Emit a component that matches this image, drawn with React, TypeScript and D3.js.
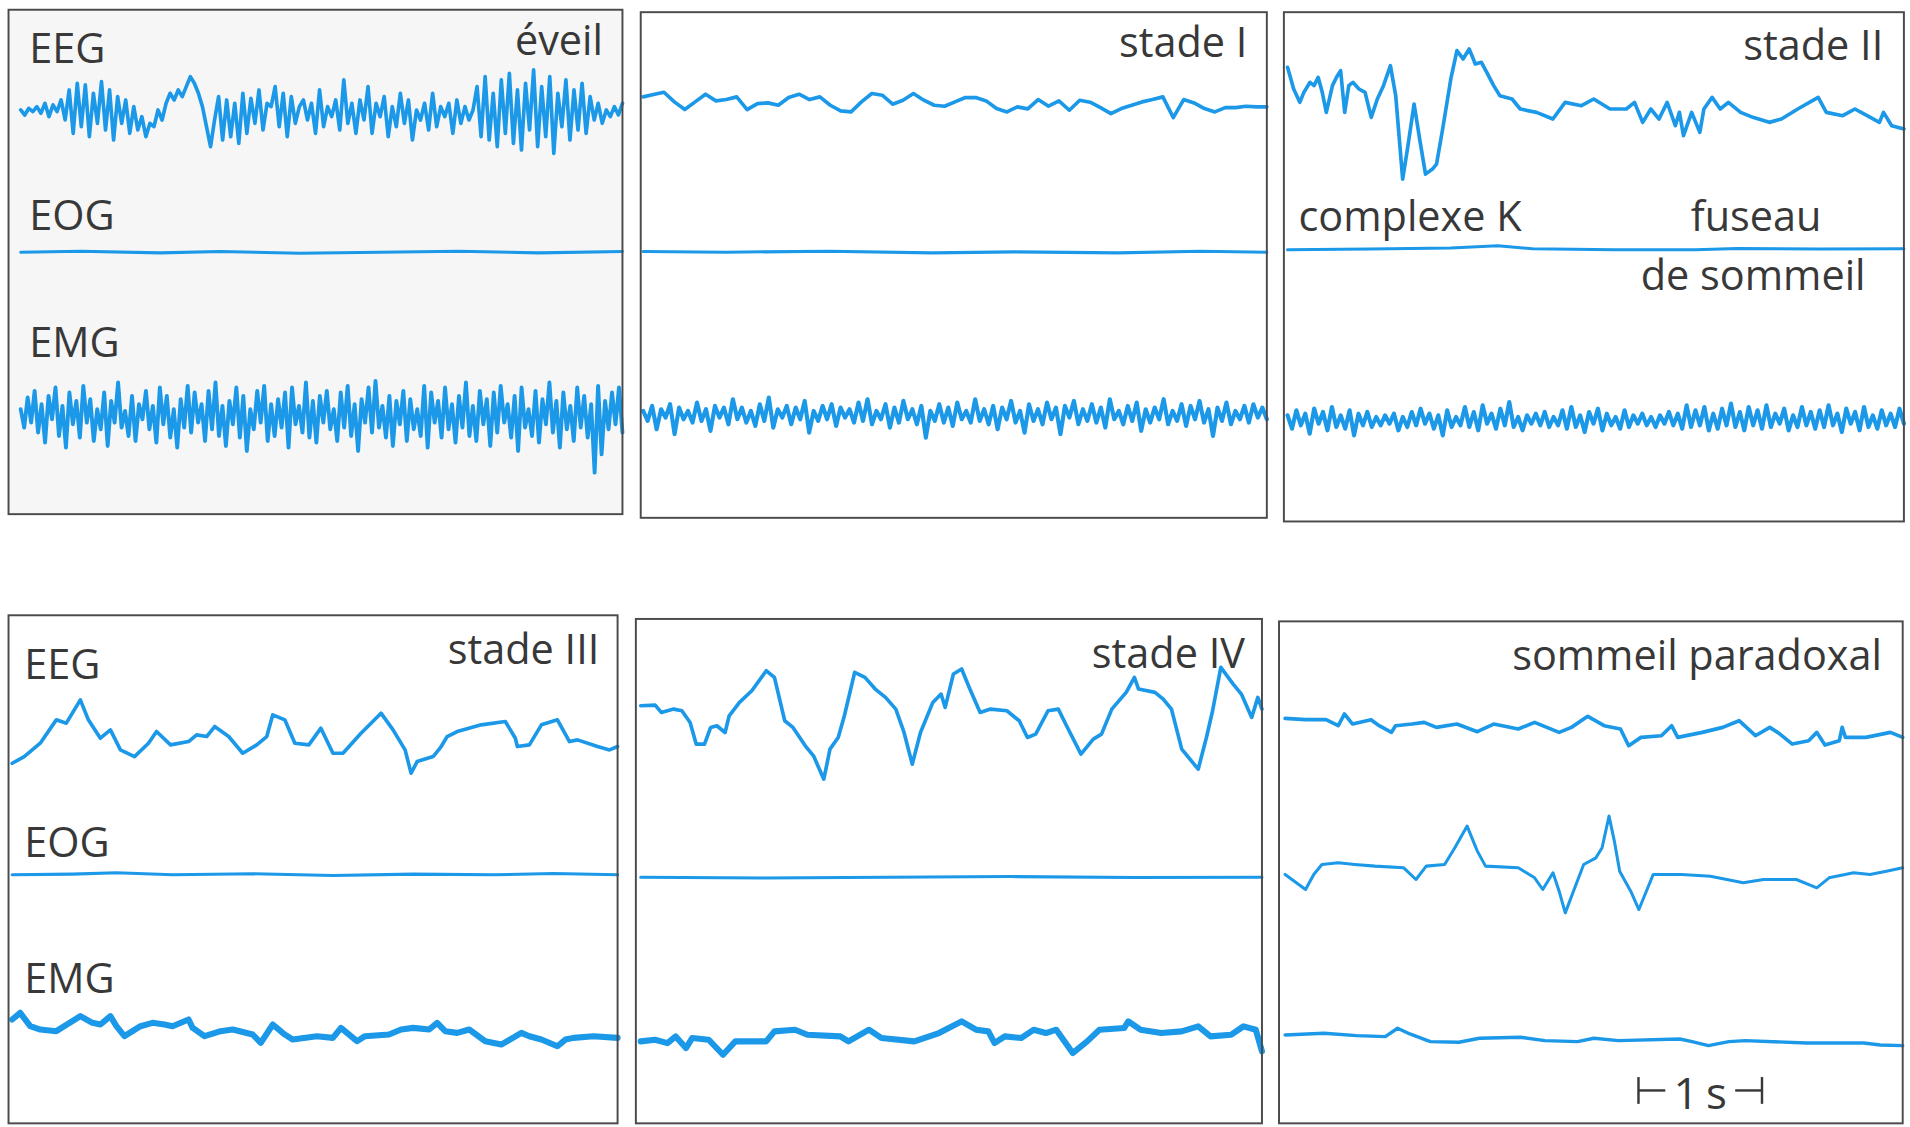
import React, { useEffect, useRef } from 'react';
import * as d3 from 'd3';

// each panel is a 5 s sweep, ~302 samples per second
const SWEEP = 1510;
const SAMPLES_PER_SEC = 302;

// ---- éveil ----
const eegEveil = [
  10, -5, 15, 5, 20, 0, 30, -10, 25, 5, 40, -20,
  70, -60, 90, -40, 85, -70, 60, -30, 95, -50, 70, -80, 50, -30, 40, -60,
  20, -50, -10, -70, -30, -40, 10, -20, 30, 60,
  40, 70, 50, 80, 110, 90, 60, 20, -40,
  -100, -20, 50, -80, 40, -70, 30, -90, 60, -60, 45, -30, 70, -50, 30, 20, 80, -40, 60, -70, 50, -30, 20, 40, -20, 30, -60, 70, -40, 20, -10, 40, -50, 100,
  -30, 30, -60, 40, -20, 80, -60, 30, -10, 50, -70, 20, -40, 60, -30, 40, -80, 10, -20, 30, -50, 60, -40, 20, -10, 30, -60, 40, -30, 20, -20, 10,
  80, -70, 110, -80, 60, -100, 100, -60, 120, -90, 70, -110, 90, -50, 130, -100, 80, -70, 110, -120, 60, -40, 100, -80, 70, -50, 90, -60, 50,
  -20, 30, -30, 10, -10, 20, -5, 30,
];
const eogEveil: [number, number][] = [
  [0, 0], [150, 3], [350, -2], [500, 2], [700, -3], [900, 0], [1100, 3], [1300, -2], [1510, 2],
];
const emgEveil = [
  15, -40, 50, -25, 70, -55, 30, -85, 55, -15, 80, -65, 25, -100, 65, -30, 40, -70, 85, -25,
  45, -80, 15, -45, 65, -95, 40, -25, 95, -40, 10, -65, 55, -80, 30, -15, 70, -45, 25, -85,
  80, -30, 55, -70, 15, -100, 45, -40, 85, -55, 65, -25, 30, -80, 70, -45, 95, -65, 25, -95,
  40, -30, 80, -70, 55, -110, 15, -45, 70, -25, 85, -80, 30, -65, 45, -40, 65, -100, 80, -30,
  25, -55, 95, -70, 40, -85, 55, -25, 70, -45, 15, -80, 65, -40, 85, -65, 30, -110, 45, -25,
  80, -55, 100, -40, 25, -70, 55, -95, 40, -30, 70, -80, 45, -45, 15, -65, 85, -100, 65, -25,
  40, -70, 80, -45, 30, -85, 55, -40, 95, -65, 25, -80, 70, -30, 45, -95, 65, -55, 85, -25,
  30, -70, 55, -110, 80, -40, 15, -65, 70, -85, 45, -30, 95, -55, 40, -100, 65, -45, 25, -80,
  80, -40, 55, -70, 30, -175, 85, -120, 40, -45, 65, -30, 80, -55,
];

// ---- stade I ----
const eegStade1 = [
  20, 27, 34, 5, -18, 5, 28, 8, 12, 20, -18, 0, 2, -5, 18, 28, 12, 20, -5, -22, -25, 5, 30, 25, -2, 10, 30, 10,
  -5, -8, 5, 18, 18, 8, -15, -25, -10, -16, 12, -8, 8, -20, 10, 4, -12, -30, -15, -5, 5, 12, 20, -42, 12, 2,
  -15, -25, -12, -12, -8, -10, -10,
];
const eogStade1: [number, number][] = [
  [0, 2], [200, 0], [450, 3], [700, -2], [900, 1], [1150, -2], [1350, 3], [1510, 0],
];
const emgStade1 = [
  10, -20, 25, -45, 15, -10, 30, -60, 20, -15, 10, -25, 35, -20, 15, -50, 25, -10, 20, -30,
  45, -15, 20, -25, 10, -35, 30, -20, 50, -40, 15, -10, 25, -30, 20, -15, 40, -55, 10, -20,
  25, -15, 30, -35, 20, -10, 15, -25, 35, -20, 45, -30, 10, -15, 30, -40, 20, -25, 40, -15,
  15, -30, 25, -70, 10, -20, 30, -25, 20, -35, 35, -15, 10, -25, 45, -20, 15, -30, 25, -45,
  20, -15, 40, -25, 10, -55, 30, -20, 15, -30, 35, -15, 20, -60, 25, -10, 40, -30, 15, -20,
  30, -25, 20, -40, 45, -15, 10, -30, 25, -20, 35, -50, 15, -25, 20, -15, 45, -30, 10, -20,
  30, -35, 25, -15, 40, -25, 15, -65, 20, -20, 35, -30, 10, -15, 25, -25, 30, -10, 20, -15,
];

// ---- stade II ----
const eegStade2: [number, number][] = [
  [0, 105], [15, 40], [30, 0], [40, 30], [55, 60], [65, 50], [75, 75], [85, 30], [95, -30], [110, 50],
  [120, 75], [130, 95], [140, -30], [150, 50], [160, 60], [175, 40], [190, 30], [205, -45], [220, 10],
  [235, 50], [252, 110], [265, 20], [282, -230], [295, -130], [310, -5], [325, -120], [338, -215],
  [355, -200], [365, -185], [380, -80], [400, 70], [415, 155], [430, 130], [445, 160], [460, 115],
  [475, 120], [490, 85], [505, 50], [520, 20], [550, 10], [570, -20], [610, -30], [650, -50], [680, 0],
  [720, -10], [750, 10], [790, -20], [830, -20], [850, 0], [870, -60], [890, -20], [910, -50], [930, 0],
  [950, -70], [960, -30], [970, -100], [990, -30], [1010, -90], [1020, -20], [1040, 15], [1060, -20],
  [1080, 0], [1110, -30], [1140, -45], [1180, -60], [1210, -50], [1250, -20], [1300, 15], [1320, -30],
  [1360, -40], [1390, -20], [1420, -40], [1450, -60], [1460, -30], [1480, -70], [1510, -80],
];
const eogStade2: [number, number][] = [
  [0, 0], [200, 2], [400, 5], [515, 12], [600, 3], [800, 0], [1000, 0], [1100, 4], [1300, 2], [1510, 3],
];
const emgStade2 = [
  15, -25, 30, -15, 20, -40, 35, -10, 25, -30, 40, -20, 15, -25, 30, -45, 20, -15, 25, -20,
  10, -15, 15, -10, 20, -30, 10, -20, 25, -15, 35, -10, 20, -25, 15, -45, 30, -20, 10, -15,
  40, -20, 25, -30, 45, -10, 20, -25, 35, -15, 55, -20, 10, -30, 15, -10, 20, -15, 25, -20,
  10, -15, 30, -25, 40, -20, 15, -35, 25, -10, 35, -30, 20, -15, 10, -25, 30, -20, 15, -10,
  20, -15, 10, -20, 15, -10, 25, -15, 20, -25, 45, -20, 30, -15, 40, -30, 20, -25, 35, -15,
  50, -20, 25, -30, 40, -15, 30, -25, 45, -20, 20, -10, 35, -30, 15, -20, 40, -15, 25, -25,
  30, -20, 45, -15, 20, -35, 35, -10, 25, -30, 40, -20, 15, -25, 30, -15, 20, -20, 35, -10,
];

// ---- stade III ----
const eegStade3: [number, number][] = [
  [0, -60], [30, -40], [70, 0], [110, 70], [135, 60], [170, 130], [190, 70], [220, 15], [245, 40],
  [270, -20], [305, -40], [340, 0], [360, 35], [395, -5], [440, 5], [460, 25], [485, 20], [505, 50],
  [540, 20], [575, -30], [610, -5], [635, 20], [650, 85], [680, 70], [705, 0], [740, -5], [770, 45],
  [800, -30], [825, -30], [870, 30], [920, 90], [950, 40], [980, -20], [995, -90], [1010, -55],
  [1050, -40], [1070, -10], [1085, 20], [1110, 35], [1170, 55], [1230, 65], [1255, 15], [1260, -10],
  [1290, -5], [1320, 55], [1360, 70], [1390, 5], [1410, 10], [1460, -10], [1490, -20], [1510, -10],
];
const eogStade3: [number, number][] = [
  [0, 0], [150, 2], [260, 6], [400, 0], [600, 3], [800, -2], [1000, 2], [1200, 0], [1350, 4], [1510, 0],
];
const emgStade3: [number, number][] = [
  [0, 30], [20, 50], [45, 10], [70, 0], [110, -5], [170, 40], [200, 20], [220, 15], [245, 40], [260, 10],
  [280, -20], [320, 10], [350, 20], [380, 15], [400, 10], [440, 30], [450, 5], [480, -20], [520, -5],
  [550, 0], [600, -15], [620, -40], [650, 15], [680, -15], [700, -30], [760, -20], [800, -25], [820, 5],
  [860, -35], [880, -20], [940, -15], [970, 0], [1000, 5], [1040, 0], [1060, 20], [1080, -5],
  [1110, -10], [1140, 0], [1180, -35], [1220, -45], [1270, -10], [1290, -20], [1320, -30], [1360, -50],
  [1380, -30], [1400, -25], [1450, -20], [1510, -25],
];

// ---- stade IV ----
const eegStade4: [number, number][] = [
  [0, 10], [35, 12], [50, -10], [80, 0], [100, -5], [120, -40], [135, -105], [155, -105], [170, -55],
  [185, -50], [205, -70], [215, -20], [240, 20], [270, 55], [305, 115], [325, 95], [350, -35],
  [370, -55], [400, -110], [420, -140], [445, -210], [460, -120], [480, -85], [495, -20], [520, 110],
  [545, 95], [570, 60], [595, 35], [620, 0], [640, -70], [660, -165], [680, -70], [710, 20], [730, 45],
  [740, 5], [760, 105], [780, 120], [800, 60], [825, -10], [850, 0], [890, -5], [920, -35], [940, -85],
  [960, -75], [990, -5], [1015, 0], [1035, -50], [1070, -135], [1100, -90], [1120, -75], [1145, 0],
  [1180, 50], [1200, 95], [1210, 60], [1250, 50], [1270, 30], [1290, 0], [1315, -120], [1355, -180],
  [1375, -85], [1390, -5], [1410, 125], [1440, 75], [1460, 45], [1485, -25], [1500, 35], [1510, 0],
];
const eogStade4: [number, number][] = [
  [0, 0], [300, -2], [600, 0], [900, 2], [1200, -1], [1510, 0],
];
const emgStade4: [number, number][] = [
  [0, -10], [35, -5], [65, -15], [85, 5], [110, -30], [125, 0], [165, -5], [200, -50], [230, -10],
  [305, -10], [325, 20], [375, 25], [405, 10], [485, 5], [505, -10], [555, 25], [585, 0], [665, -10],
  [725, 15], [780, 50], [815, 25], [845, 20], [860, -15], [885, 5], [925, 0], [955, 25], [985, 15],
  [1010, 25], [1050, -45], [1085, -10], [1115, 25], [1175, 30], [1185, 50], [1215, 25], [1265, 15],
  [1315, 20], [1355, 35], [1385, 5], [1435, 10], [1465, 35], [1495, 25], [1510, -40],
];

// ---- sommeil paradoxal ----
const eegParadoxal: [number, number][] = [
  [0, 27], [50, 23], [100, 23], [130, 5], [145, 40], [165, 10], [210, 23], [230, 5], [260, -15],
  [270, 5], [310, 10], [340, 15], [370, 0], [420, 10], [470, -13], [510, 10], [570, -5], [610, 15],
  [670, -15], [700, 0], [740, 33], [780, 5], [820, -5], [840, -55], [870, -30], [920, -25], [945, 5],
  [960, -30], [1020, -15], [1070, 0], [1110, 20], [1150, -25], [1185, 0], [1210, -20], [1240, -50],
  [1280, -40], [1300, -15], [1320, -53], [1355, -40], [1362, 0], [1370, -30], [1420, -30], [1480, -15],
  [1510, -30],
];
const eogParadoxal: [number, number][] = [
  [0, -10], [50, -55], [70, -10], [90, 20], [130, 25], [170, 20], [220, 15], [290, 10], [320, -25],
  [345, 15], [390, 20], [415, 70], [445, 135], [470, 60], [490, 15], [570, 10], [610, -20], [630, -55],
  [655, -5], [670, -60], [685, -125], [705, -60], [730, 20], [760, 40], [775, 70], [792, 165], [805, 90],
  [818, 0], [845, -60], [865, -115], [900, -10], [970, -10], [1040, -15], [1120, -35], [1170, -25],
  [1250, -25], [1300, -50], [1330, -20], [1390, -5], [1430, -10], [1470, 0], [1510, 10],
];
const emgParadoxal: [number, number][] = [
  [0, 2], [95, 7], [175, 0], [245, -3], [275, 22], [305, 5], [355, -18], [425, -20], [475, -8],
  [575, -5], [635, -15], [715, -18], [755, -8], [815, -15], [965, -10], [995, -18], [1035, -30],
  [1085, -18], [1125, -15], [1275, -22], [1415, -22], [1455, -28], [1510, -30],
];

const stageNames = ['éveil', 'stade I', 'stade II', 'stade III', 'stade IV', 'sommeil paradoxal'];
const channelNames = ['EEG', 'EOG', 'EMG'];
const scaleBarStart = 864; // samples

type Trace = number[] | [number, number][];

const toPoints = (tr: Trace): [number, number][] =>
  typeof tr[0] === 'number'
    ? (tr as number[]).map((v, i, a) => [(i * SWEEP) / (a.length - 1), v])
    : (tr as [number, number][]);

// layout in a 1568 x 925 frame
const panels = [
  { box: [7, 8, 511, 422], fill: '#f6f6f6', x: [17, 511], base: [93, 207, 340], emgW: 3.2,
    traces: [eegEveil, eogEveil, emgEveil], channels: true, titleAt: [495, 45] },
  { box: [526, 10, 1040, 425], fill: '#ffffff', x: [528, 1040], base: [85, 207, 340], emgW: 3.4,
    traces: [eegStade1, eogStade1, emgStade1], channels: false, titleAt: [1024, 47] },
  { box: [1054, 10, 1563, 428], fill: '#ffffff', x: [1057, 1563], base: [84, 205, 345], emgW: 3.4,
    traces: [eegStade2, eogStade2, emgStade2], channels: false, titleAt: [1546, 49] },
  { box: [7, 505, 507, 922], fill: '#ffffff', x: [10, 507], base: [610, 718, 845], emgW: 5,
    traces: [eegStade3, eogStade3, emgStade3], channels: true, titleAt: [492, 545] },
  { box: [522, 508, 1036, 922], fill: '#ffffff', x: [526, 1036], base: [582, 720, 852], emgW: 5,
    traces: [eegStade4, eogStade4, emgStade4], channels: false, titleAt: [1022, 548] },
  { box: [1050, 510, 1562, 922], fill: '#ffffff', x: [1055, 1562], base: [597, 715, 850], emgW: 2.8,
    traces: [eegParadoxal, eogParadoxal, emgParadoxal], channels: false, titleAt: [1545, 550] },
];

const channelLabelY = [[52, 189, 293], [557, 703, 815]];

export default function App() {
  const ref = useRef<SVGSVGElement>(null);

  useEffect(() => {
    const svg = d3.select(ref.current);
    svg.selectAll('*').remove();
    const font = "'Open Sans', 'DejaVu Sans', sans-serif";
    const blue = '#1c98e8';
    const ink = '#383838';

    svg.append('rect').attr('width', 1568).attr('height', 925).attr('fill', '#ffffff');

    panels.forEach((p, pi) => {
      const [x0, y0, x1, y1] = p.box;
      const g = svg.append('g');
      g.append('rect')
        .attr('x', x0).attr('y', y0)
        .attr('width', x1 - x0).attr('height', y1 - y0)
        .attr('fill', p.fill);

      const x = d3.scaleLinear().domain([0, SWEEP]).range(p.x);

      p.traces.forEach((tr, ci) => {
        const base = p.base[ci];
        const y = d3.scaleLinear().domain([-365, 365]).range([base + 100, base - 100]);
        const line = d3.line<[number, number]>().x((d) => x(d[0])).y((d) => y(d[1]));
        g.append('path')
          .attr('d', line(toPoints(tr)))
          .attr('fill', 'none')
          .attr('stroke', blue)
          .attr('stroke-width', ci === 2 ? p.emgW : ci === 1 ? 2.5 : 3)
          .attr('stroke-linejoin', 'round')
          .attr('stroke-linecap', 'round');
      });

      g.append('rect')
        .attr('x', x0).attr('y', y0)
        .attr('width', x1 - x0).attr('height', y1 - y0)
        .attr('fill', 'none')
        .attr('stroke', '#4a4a4a')
        .attr('stroke-width', 1.6);

      const text = (s: string, tx: number, ty: number, anchor = 'start') =>
        g.append('text')
          .attr('x', tx).attr('y', ty)
          .attr('text-anchor', anchor)
          .attr('font-family', font)
          .attr('font-size', 34)
          .attr('fill', ink)
          .text(s);

      text(stageNames[pi], p.titleAt[0], p.titleAt[1], 'end');
      if (p.channels) {
        const row = pi < 3 ? 0 : 1;
        const lx = pi < 3 ? 24 : 20;
        channelNames.forEach((c, ci) => text(c, lx, channelLabelY[row][ci]));
      }
      if (pi === 2) {
        text('complexe K', 1066, 190);
        text('fuseau', 1388, 190);
        text('de sommeil', 1347, 238);
      }
      if (pi === 5) {
        // 1 s scale bar
        const a = x(scaleBarStart);
        const b = x(scaleBarStart + SAMPLES_PER_SEC);
        const yb = 895;
        const bar = g.append('g').attr('stroke', ink).attr('stroke-width', 2);
        bar.append('line').attr('x1', a).attr('x2', a).attr('y1', yb - 11).attr('y2', yb + 11);
        bar.append('line').attr('x1', a).attr('x2', a + 22).attr('y1', yb).attr('y2', yb);
        bar.append('line').attr('x1', b - 22).attr('x2', b).attr('y1', yb).attr('y2', yb);
        bar.append('line').attr('x1', b).attr('x2', b).attr('y1', yb - 11).attr('y2', yb + 11);
        g.append('text')
          .attr('x', (a + b) / 2).attr('y', 910)
          .attr('text-anchor', 'middle')
          .attr('font-family', font)
          .attr('font-size', 36)
          .attr('fill', ink)
          .text('1\u2009s');
      }
    });
  }, []);

  return (
    <svg
      ref={ref}
      width={1910}
      height={1127}
      viewBox="0 0 1568 925"
      preserveAspectRatio="none"
      style={{ position: 'absolute', left: 0, top: 0, display: 'block' }}
    />
  );
}
